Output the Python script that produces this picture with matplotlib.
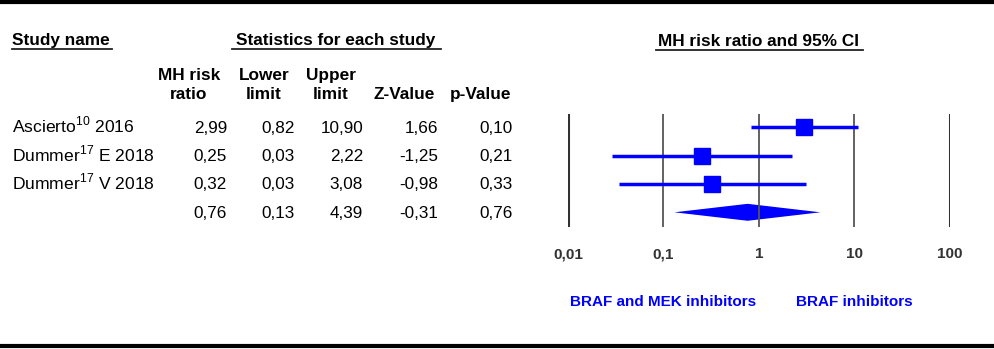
import matplotlib
matplotlib.use("Agg")
import matplotlib.pyplot as plt
import matplotlib.transforms as mtransforms
from matplotlib.lines import Line2D

plt.rcParams['font.family'] = ['Liberation Sans', 'DejaVu Sans']
plt.rcParams['mathtext.fontset'] = 'custom'
plt.rcParams['mathtext.rm'] = 'Liberation Sans'

# data
studies = ["Ascierto$^{10}$ 2016", "Dummer$^{17}$ E 2018", "Dummer$^{17}$ V 2018", ""]
rr = [2.99, 0.25, 0.32, 0.76]
lower = [0.82, 0.029, 0.034, 0.13]
upper = [10.90, 2.22, 3.08, 4.39]
zval = [1.66, -1.25, -0.98, -0.31]
pval = [0.10, 0.21, 0.33, 0.76]
ticks = [0.01, 0.1, 1, 10, 100]
tick_labels = ["0,01", "0,1", "1", "10", "100"]
favours = ["BRAF and MEK inhibitors", "BRAF inhibitors"]

W, H = 995, 349
BLUE = "#0000ff"
FS = 12.3   # table text
FSB = 12.4  # bold headers

fig = plt.figure(figsize=(W / 100, H / 100), dpi=100)
# pixel coords, origin top-left
pix = mtransforms.Affine2D().scale(1 / W, -1 / H).translate(0, 1) + fig.transFigure


def fmt(v):
    return f"{v:.2f}".replace(".", ",")


def hline(x0, x1, y, lw=1.3, color="#222222"):
    fig.add_artist(Line2D([x0, x1], [y, y], transform=pix, color=color, lw=lw))


# borders
hline(0, W, 2, lw=3, color="black")
hline(0, W, 346, lw=3, color="black")

# headers
fig.text(12, 45, "Study name", transform=pix, fontsize=FSB, fontweight="bold", va="baseline")
hline(12, 112, 49)
fig.text(336, 45, "Statistics for each study", transform=pix, fontsize=FSB,
         fontweight="bold", va="baseline", ha="center")
hline(232, 441, 49)
fig.text(759, 46, "MH risk ratio and 95% CI", transform=pix, fontsize=FSB,
         fontweight="bold", va="baseline", ha="center")
hline(656, 863, 50)

col_centers = [189, 264, 331, 404, 481]
head1 = ["MH risk", "Lower", "Upper", "", ""]
head2 = ["ratio", "limit", "limit", "Z-Value", "p-Value"]
for cx, h1, h2 in zip(col_centers, head1, head2):
    fig.text(cx, 80, h1, transform=pix, fontsize=FSB, fontweight="bold", va="baseline", ha="center")
    fig.text(cx, 99, h2, transform=pix, fontsize=FSB, fontweight="bold", va="baseline", ha="center")

# table rows
col_right = [227, 295, 363, 438, 513]
row_base = [132.8, 161, 189.3, 217.6]
for i, yb in enumerate(row_base):
    fig.text(12, yb, studies[i], transform=pix, fontsize=12.6, va="baseline")
    vals = [rr[i], lower[i], upper[i], zval[i], pval[i]]
    for xr, v in zip(col_right, vals):
        fig.text(xr, yb, fmt(v), transform=pix, fontsize=FS, va="baseline", ha="right")

# forest plot axes
x0, x1, y0, y1 = 568, 950, 114, 227
ax = fig.add_axes([x0 / W, 1 - y1 / H, (x1 - x0) / W, (y1 - y0) / H])
ax.set_xscale("log")
ax.set_xlim(0.01, 100)
ax.set_ylim(3.52, -0.477)
for s in ax.spines.values():
    s.set_visible(False)
ax.set_xticks([])
ax.set_yticks([])
ax.minorticks_off()
ax.patch.set_alpha(0)

for t in ticks:
    outer = t in (ticks[0], ticks[-1])
    ax.axvline(t, color="#333333" if outer else "#555555", lw=2.2 if outer else 1.3)

blend = mtransforms.blended_transform_factory(ax.transData, pix)
for t, lab in zip(ticks, tick_labels):
    ax.text(t, 258.5, lab, transform=blend, fontsize=11, fontweight="bold",
            color="#333333", ha="center", va="baseline")

for i in range(3):
    ax.plot([lower[i], upper[i]], [i, i], color=BLUE, lw=2.5, solid_capstyle="butt")
    ax.plot(rr[i], i, marker="s", markersize=12, color=BLUE, mec=BLUE)

h = 0.3
ax.fill([lower[3], rr[3], upper[3], rr[3]], [3, 3 - h, 3, 3 + h], color=BLUE, lw=0)

for xv, lab in zip([0.1, 10], favours):
    ax.text(xv, 306.5, lab, transform=blend, fontsize=11, fontweight="bold",
            color=BLUE, ha="center", va="baseline")

fig.savefig("out.png", dpi=100)
